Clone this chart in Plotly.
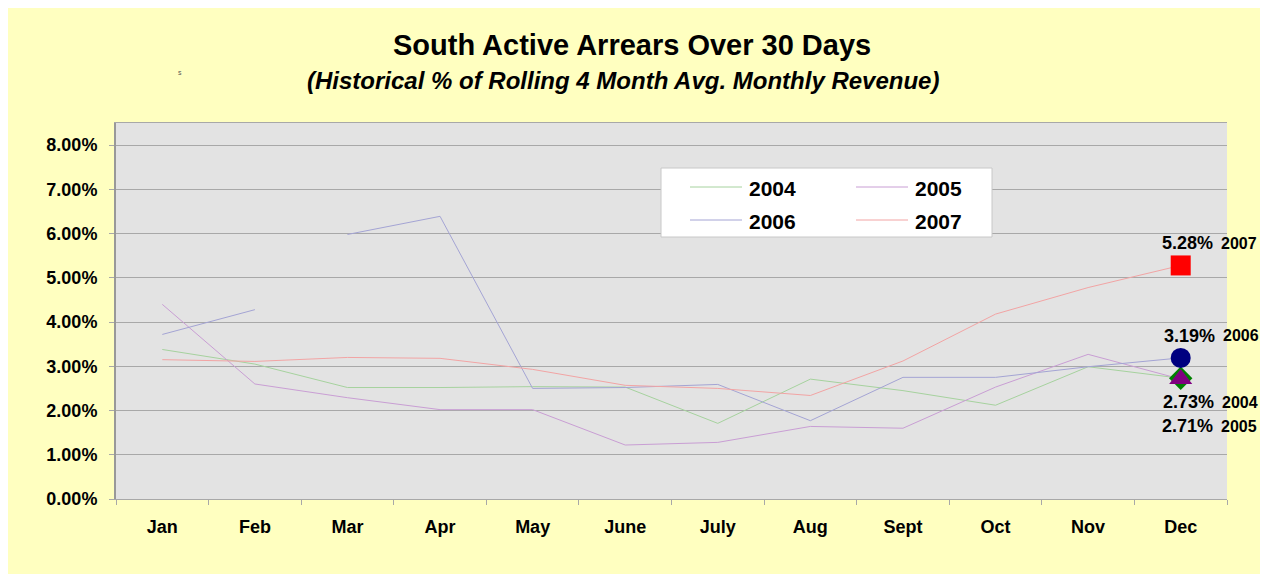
from plotly import graph_objects as go

# chart data (percent of rolling 4 month avg. monthly revenue)
months = ["Jan", "Feb", "Mar", "Apr", "May", "June", "July", "Aug", "Sept", "Oct", "Nov", "Dec"]
arrears_2004 = [3.38, 3.05, 2.52, 2.52, 2.54, 2.53, 1.71, 2.71, 2.45, 2.12, 2.99, 2.73]
arrears_2005 = [4.40, 2.60, 2.29, 2.02, 2.02, 1.22, 1.28, 1.64, 1.60, 2.53, 3.27, 2.71]
arrears_2006 = [3.72, 4.28, 5.98, 6.39, 2.50, 2.52, 2.59, 1.77, 2.75, 2.75, 2.99, 3.19]
arrears_2007 = [3.15, 3.11, 3.20, 3.18, 2.93, 2.57, 2.50, 2.34, 3.12, 4.18, 4.78, 5.28]
years = ["2004", "2005", "2006", "2007"]
y_ticks = [0, 1, 2, 3, 4, 5, 6, 7, 8]

series = {"2004": arrears_2004, "2005": arrears_2005, "2006": arrears_2006, "2007": arrears_2007}
line_colors = {"2004": "#a6d29e", "2005": "#c99ed4", "2006": "#a4a4d4", "2007": "#f2a4a4"}
marker_colors = {"2004": "#008000", "2005": "#800080", "2006": "#000080", "2007": "#ff0000"}
marker_symbols = {"2004": "diamond", "2005": "triangle-up", "2006": "circle", "2007": "square"}
marker_sizes = {"2004": 18, "2005": 20, "2006": 20, "2007": 20}
# the 2006 line is broken between Feb and Mar in the original
gap_after = {"2006": 1}
# (xshift, yshift) of the Dec value label, xshift of the year label
label_shift = {"2007": (7, 22, 38), "2006": (9, 22, 40), "2004": (8, -24, 39), "2005": (7, -47, 38)}

FONT = "Liberation Sans, Arial, sans-serif"

# page puts the figure 8px in from the top left corner
OFF = 8
FIG_W, FIG_H = 1268 - 2 * OFF, 582 - 2 * OFF
# plot area in screen pixels: x 116..1227, y 123..499
L, R, T, B = 116 - OFF, 1227 - OFF, 123 - OFF, 499 - OFF
W, H = R - L, B - T


def px(x):
    return (x - OFF - L) / W


def py(y):
    return (B - (y - OFF)) / H


fig = go.Figure()

for yr in years:
    vals = series[yr]
    xs, ys = list(months), list(vals)
    if yr in gap_after:
        i = gap_after[yr]
        xs = months[:i + 1] + [months[i]] + months[i + 1:]
        ys = vals[:i + 1] + [None] + vals[i + 1:]
    fig.add_trace(go.Scatter(
        x=xs, y=ys, mode="lines", name=yr,
        line=dict(color=line_colors[yr], width=1),
        connectgaps=False, showlegend=False
    ))

# Dec markers drawn on top
for yr in ["2004", "2005", "2006", "2007"]:
    fig.add_trace(go.Scatter(
        x=[months[-1]], y=[series[yr][-1]], mode="markers",
        marker=dict(symbol=marker_symbols[yr], size=marker_sizes[yr],
                    color=marker_colors[yr], line=dict(width=0)),
        showlegend=False
    ))

annotations = []
for yr in years:
    v = series[yr][-1]
    dx, dy, yx = label_shift[yr]
    annotations.append(dict(
        x=months[-1], y=v, xref="x", yref="y", text=f"<b>{v:.2f}%</b>", showarrow=False,
        xshift=dx, yshift=dy, font=dict(family=FONT, size=18, color="black"),
        xanchor="center", yanchor="middle"
    ))
    annotations.append(dict(
        x=months[-1], y=v, xref="x", yref="y", text=f"<b>{yr}</b>", showarrow=False,
        xshift=yx, yshift=dy, font=dict(family=FONT, size=16, color="black"),
        xanchor="left", yanchor="middle"
    ))

# titles
annotations.append(dict(
    x=px(632), y=py(45), xref="paper", yref="paper", showarrow=False,
    text="<b>South Active Arrears Over 30 Days</b>",
    font=dict(family=FONT, size=29, color="black"), xanchor="center", yanchor="middle"
))
annotations.append(dict(
    x=px(623), y=py(80), xref="paper", yref="paper", showarrow=False,
    text="<b><i>(Historical % of Rolling 4 Month Avg. Monthly Revenue)</i></b>",
    font=dict(family=FONT, size=24, color="black"), xanchor="center", yanchor="middle"
))
annotations.append(dict(
    x=px(180), y=py(73), xref="paper", yref="paper", showarrow=False, text="s",
    font=dict(family=FONT, size=7, color="#555555"), xanchor="center", yanchor="middle"
))

# legend box (two columns)
shapes = [
    dict(type="rect", xref="paper", yref="paper", x0=px(661), x1=px(992), y0=py(237), y1=py(168),
         fillcolor="white", line=dict(color="#c8c8c8", width=1), layer="above"),
]
legend_pos = {"2004": (690, 187), "2005": (856, 187), "2006": (690, 220), "2007": (856, 220)}
for yr in years:
    x0, y0 = legend_pos[yr]
    shapes.append(dict(type="line", xref="paper", yref="paper", x0=px(x0), x1=px(x0 + 52),
                       y0=py(y0), y1=py(y0), line=dict(color=line_colors[yr], width=1), layer="above"))
    annotations.append(dict(
        x=px(x0 + 57), y=py(y0 + 1), xref="paper", yref="paper", showarrow=False,
        text=f"<b>{yr}</b>", font=dict(family=FONT, size=21, color="black"),
        xanchor="left", yanchor="middle"
    ))

fig.update_layout(
    width=FIG_W,
    height=FIG_H,
    margin=dict(l=L, r=FIG_W - R, t=T, b=FIG_H - B, pad=0),
    paper_bgcolor="#ffffc0",
    plot_bgcolor="#e3e3e3",
    showlegend=False,
    annotations=annotations,
    shapes=shapes,
    xaxis=dict(
        categoryorder="array", categoryarray=months, range=[-0.5, len(months) - 0.5],
        tickson="boundaries", ticks="outside", ticklen=5, tickcolor="#a8a8a8",
        showgrid=False, showline=True, linecolor="#a8a8a8", linewidth=1, mirror=True,
        tickfont=dict(family=FONT, size=18, color="black"), ticklabelstandoff=11,
        tickprefix="<b>", ticksuffix="</b>", fixedrange=True
    ),
    yaxis=dict(
        range=[0, 8.5], tickvals=y_ticks,
        ticktext=[f"<b>{v:.2f}%</b>" for v in y_ticks],
        ticks="outside", ticklen=5, tickcolor="#a8a8a8",
        showgrid=True, gridcolor="#a8a8a8", gridwidth=1, zeroline=False,
        showline=True, linecolor="#999999", linewidth=2, mirror=False,
        tickfont=dict(family=FONT, size=18, color="black"), ticklabelstandoff=8,
        fixedrange=True
    ),
)

fig.write_html("out.html")
